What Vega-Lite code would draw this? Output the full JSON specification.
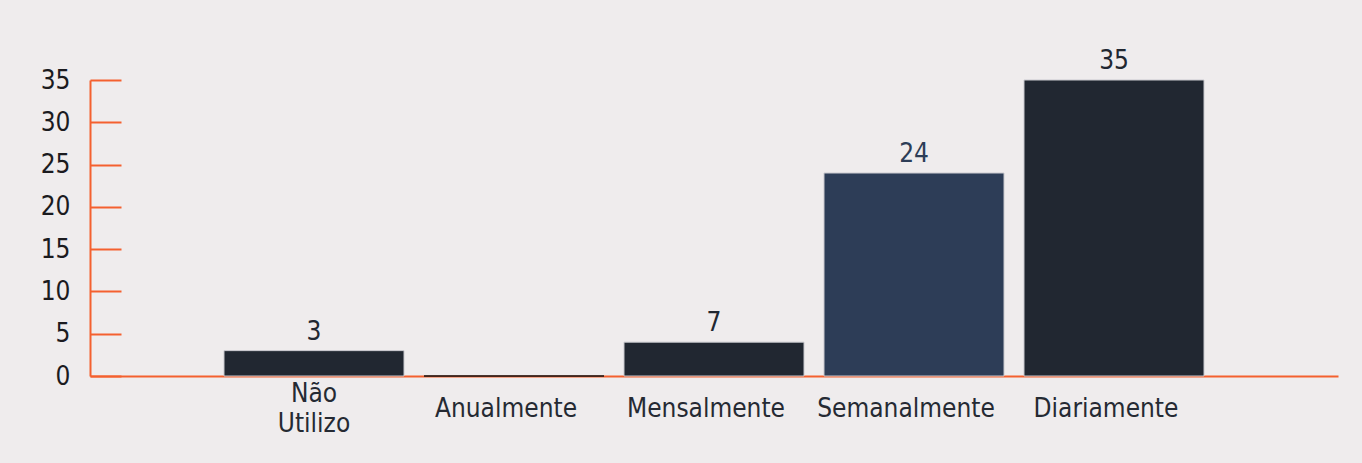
{
  "$schema": "https://vega.github.io/schema/vega-lite/v6.json",
  "autosize": "none",
  "width": 1248,
  "height": 296,
  "padding": {"left": 90, "top": 80, "right": 24, "bottom": 87},
  "background": "#efeced",
  "config": {
    "view": {"stroke": null},
    "font": "DejaVu Sans Condensed"
  },
  "data": {
    "values": [
      {"categoria": "Não Utilizo", "valor": 3, "rotulo": "3"},
      {"categoria": "Anualmente", "valor": 0, "rotulo": ""},
      {"categoria": "Mensalmente", "valor": 4, "rotulo": "7"},
      {"categoria": "Semanalmente", "valor": 24, "rotulo": "24"},
      {"categoria": "Diariamente", "valor": 35, "rotulo": "35"}
    ]
  },
  "encoding": {
    "x": {
      "field": "categoria", "type": "nominal", "sort": null,
      "scale": {"paddingInner": 0.1, "paddingOuter": 0.67},
      "axis": {
        "title": null, "ticks": false, "labelAngle": 0,
        "domainColor": "#f4602f", "domainWidth": 2,
        "labelFont": "DejaVu Sans Condensed", "labelFontSize": 26,
        "labelColor": "#252a33", "labelBaseline": "middle",
        "labelPadding": {"condition": {"test": "datum.value == 'Não Utilizo'", "value": 17}, "value": 32},
        "labelOffset": {"condition": {"test": "datum.value == 'Não Utilizo'", "value": 0}, "value": -8},
        "labelLineHeight": 30,
        "labelExpr": "split(datum.label, ' ')"
      }
    },
    "y": {
      "field": "valor", "type": "quantitative",
      "scale": {"domain": [0, 35], "nice": false},
      "axis": {
        "title": null, "values": [0, 5, 10, 15, 20, 25, 30, 35],
        "grid": false, "domainColor": "#f4602f", "domainWidth": 2,
        "tickColor": "#f4602f", "tickWidth": 2, "tickSize": -31,
        "labelFont": "DejaVu Sans Condensed", "labelFontSize": 26,
        "labelColor": "#1b1b1f", "labelPadding": 51
      }
    },
    "color": {
      "field": "categoria", "type": "nominal", "legend": null,
      "scale": {
        "domain": ["Não Utilizo", "Anualmente", "Mensalmente", "Semanalmente", "Diariamente"],
        "range": ["#212731", "#111111", "#212731", "#2d3d57", "#212731"]
      }
    }
  },
  "layer": [
    {
      "mark": {"type": "bar", "strokeWidth": 1},
      "encoding": {
        "stroke": {
          "condition": {"test": "datum.valor == 0", "value": "#111111"},
          "value": "#c9c9ce"
        }
      }
    },
    {
      "mark": {"type": "text", "baseline": "bottom", "dy": -6, "fontSize": 26, "font": "DejaVu Sans Condensed"},
      "encoding": {"text": {"field": "rotulo"}}
    }
  ]
}
